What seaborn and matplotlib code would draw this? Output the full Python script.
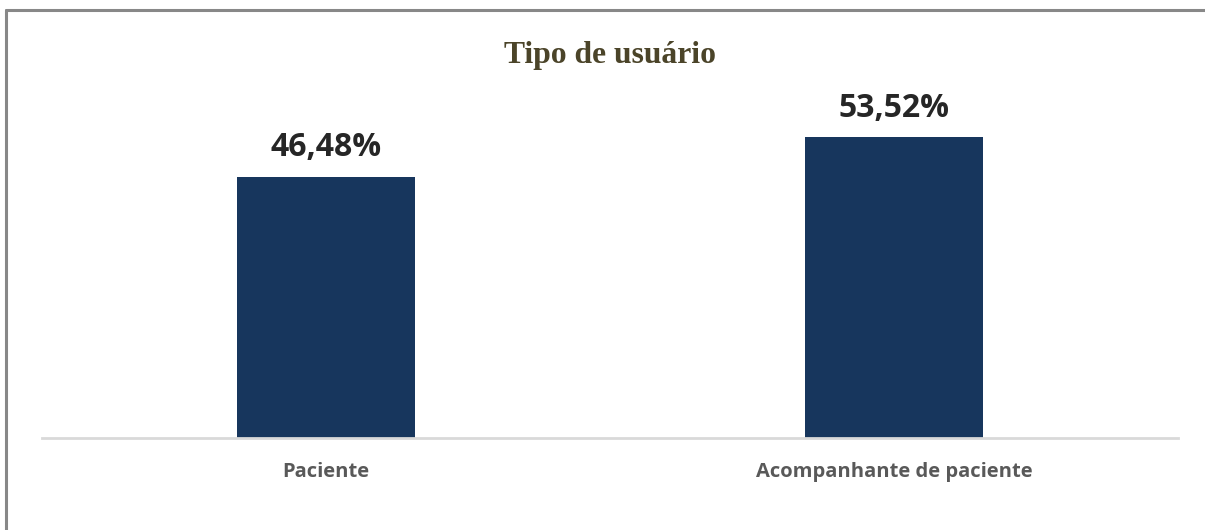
import matplotlib
matplotlib.use('Agg')
import matplotlib.pyplot as plt
from matplotlib.lines import Line2D
import seaborn as sns
import pandas as pd

# Data
categories = ['Paciente', 'Acompanhante de paciente']
percentages = [46.48, 53.52]
valueLabels = ['46,48%', '53,52%']

sns.set_theme(style='white')
plt.rcParams['font.family'] = ['Open Sans', 'DejaVu Sans']

df = pd.DataFrame({'Tipo': categories, 'Pct': percentages})

fig = plt.figure(figsize=(12.05, 5.30), dpi=100)
ax = fig.add_axes([0.0349, 0.1736, 0.9427, 0.6358])

sns.barplot(data=df, x='Tipo', y='Pct', color='#17365D', width=0.313,
            saturation=1, ax=ax, edgecolor='none')
ax.set_ylim(0, 60)
ax.set_xlim(-0.5, 1.5)

# Value labels
for cont in ax.containers:
    ax.bar_label(cont, labels=valueLabels, padding=9, fontsize=23,
                 fontweight='bold', color='#262626')

# Axes styling
for s in ['top', 'right', 'left']:
    ax.spines[s].set_visible(False)
ax.spines['bottom'].set_color('#D9D9D9')
ax.spines['bottom'].set_linewidth(2)
ax.set_yticks([])
ax.set_xlabel('')
ax.set_ylabel('')
ax.tick_params(axis='x', length=0, pad=17, labelsize=14.5, labelcolor='#595959')
for lbl in ax.get_xticklabels():
    lbl.set_fontweight('bold')

# Title
fig.text(0.506, 0.895, 'Tipo de usuário', ha='center', va='center',
         fontsize=22.8, fontweight='bold', color='#4B4429',
         family='Liberation Serif')

# Partial frame (top and left edges)
fig.add_artist(Line2D([0.0046, 1.0], [0.9815, 0.9815], color='#888888', lw=2.2,
                      transform=fig.transFigure))
fig.add_artist(Line2D([0.0046, 0.0046], [0.0, 0.9815], color='#888888', lw=2.2,
                      transform=fig.transFigure))

plt.savefig('out.png', dpi=100)
plt.close()
